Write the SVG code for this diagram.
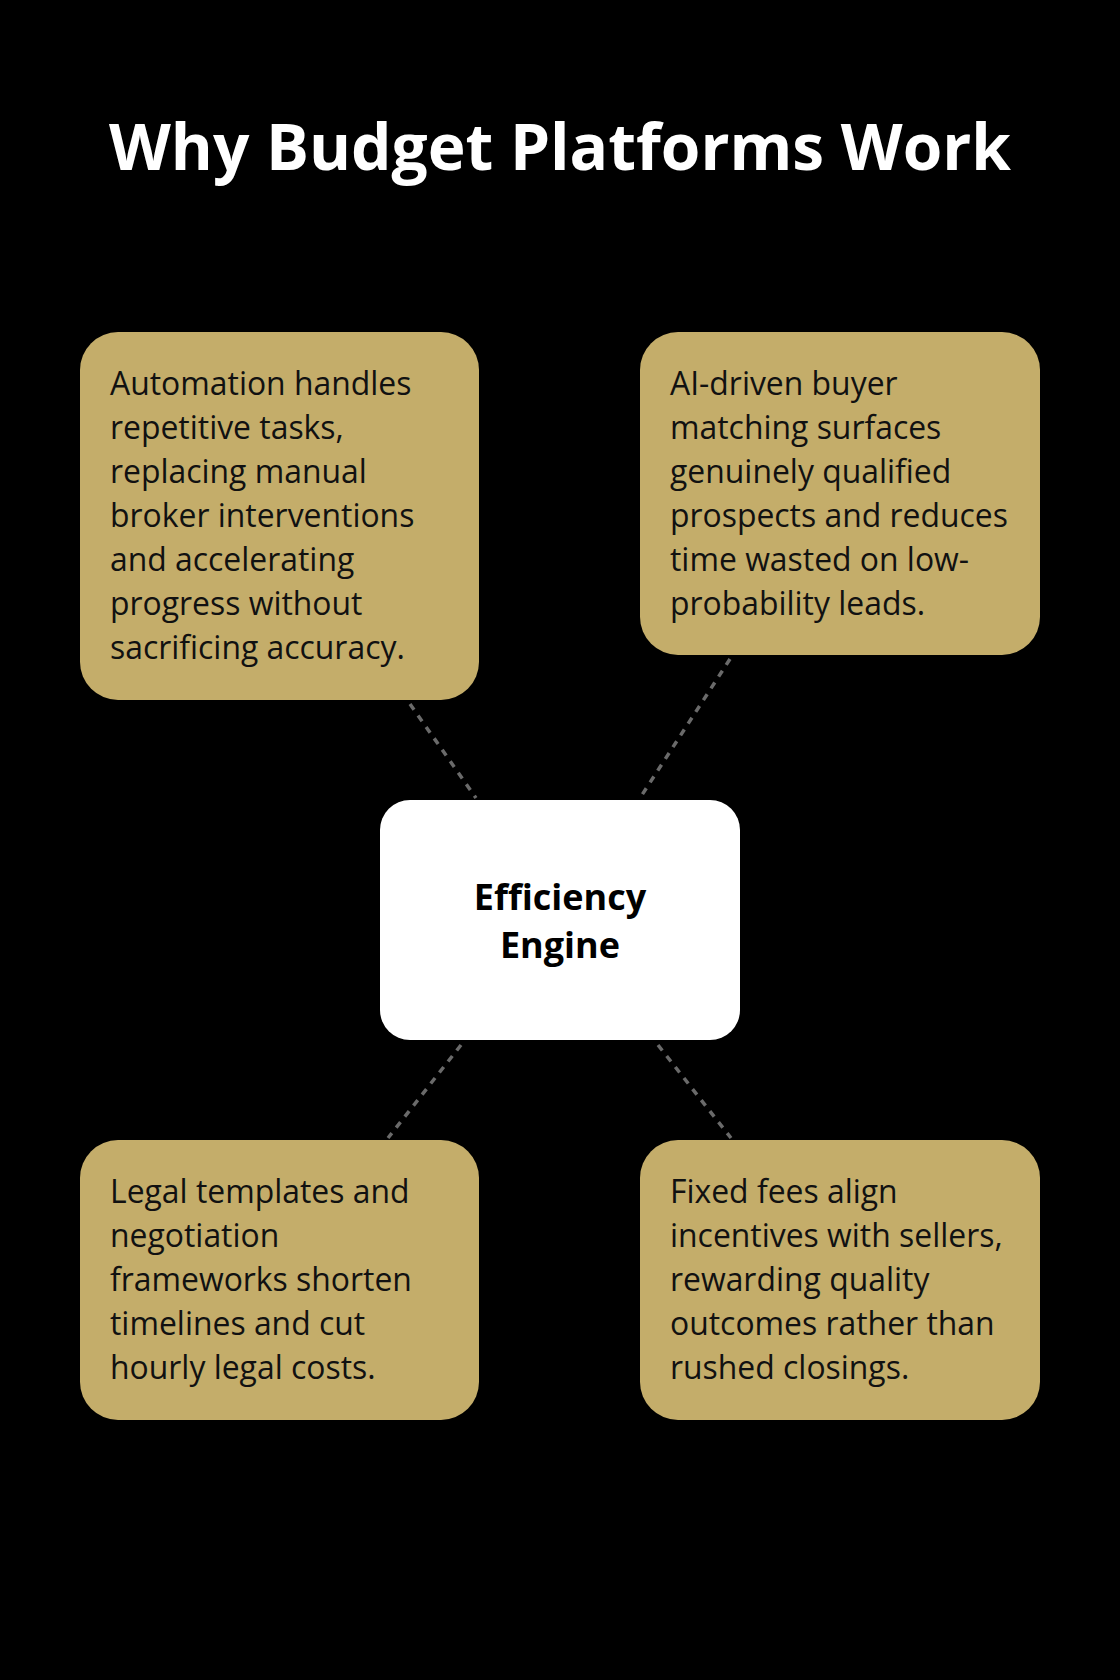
<svg xmlns="http://www.w3.org/2000/svg" width="1120" height="1680" viewBox="0 0 1120 1680">
<style>
.box{fill:#C4AD6A}
.t{font-family:"Open Sans","Liberation Sans",sans-serif;font-size:31.9px;fill:#111}
.c{font-family:"Open Sans","Liberation Sans",sans-serif;font-size:36px;font-weight:bold;fill:#000;text-anchor:middle}
.ln{stroke:#6a6a6a;stroke-width:3.5;stroke-dasharray:7 7;fill:none}
</style>
<rect width="1120" height="1680" fill="#000"/>
<text x="560" y="170" text-anchor="middle" font-family="'Open Sans','Liberation Sans',sans-serif" font-weight="bold" font-size="64" fill="#fff">Why Budget Platforms Work</text>
<g id="connectors">
<line class="ln" x1="410" y1="704" x2="476" y2="798"/>
<line class="ln" x1="730" y1="659" x2="640" y2="798"/>
<line class="ln" x1="461" y1="1045" x2="388" y2="1138"/>
<line class="ln" x1="658" y1="1045" x2="731" y2="1138"/>
</g>
<g id="n1"><rect class="box" x="80" y="332" width="399" height="368" rx="38"/>
<text class="t"><tspan x="110" y="395">Automation handles</tspan><tspan x="110" y="439">repetitive tasks,</tspan><tspan x="110" y="483">replacing manual</tspan><tspan x="110" y="527">broker interventions</tspan><tspan x="110" y="571">and accelerating</tspan><tspan x="110" y="615">progress without</tspan><tspan x="110" y="659">sacrificing accuracy.</tspan></text></g>
<g id="n2"><rect class="box" x="640" y="332" width="400" height="323" rx="38"/>
<text class="t"><tspan x="670" y="395">AI-driven buyer</tspan><tspan x="670" y="439">matching surfaces</tspan><tspan x="670" y="483">genuinely qualified</tspan><tspan x="670" y="527">prospects and reduces</tspan><tspan x="670" y="571">time wasted on low-</tspan><tspan x="670" y="615">probability leads.</tspan></text></g>
<g id="center"><rect x="380" y="800" width="360" height="240" rx="30" fill="#fff"/>
<text class="c"><tspan x="560" y="910">Efficiency</tspan><tspan x="560" y="958">Engine</tspan></text></g>
<g id="n3"><rect class="box" x="80" y="1140" width="399" height="280" rx="38"/>
<text class="t"><tspan x="110" y="1203">Legal templates and</tspan><tspan x="110" y="1247">negotiation</tspan><tspan x="110" y="1291">frameworks shorten</tspan><tspan x="110" y="1335">timelines and cut</tspan><tspan x="110" y="1379">hourly legal costs.</tspan></text></g>
<g id="n4"><rect class="box" x="640" y="1140" width="400" height="280" rx="38"/>
<text class="t"><tspan x="670" y="1203">Fixed fees align</tspan><tspan x="670" y="1247">incentives with sellers,</tspan><tspan x="670" y="1291">rewarding quality</tspan><tspan x="670" y="1335">outcomes rather than</tspan><tspan x="670" y="1379">rushed closings.</tspan></text></g>
</svg>
